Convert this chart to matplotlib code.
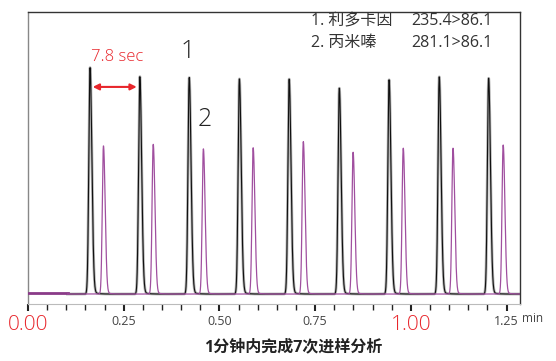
import numpy as np
import matplotlib
matplotlib.use("Agg")
import matplotlib.pyplot as plt

plt.rcParams['font.family'] = ['Open Sans', 'Noto Sans CJK SC', 'DejaVu Sans']

# Retention times (min) and relative heights
lido_rt = [0.162, 0.292, 0.421, 0.552, 0.682, 0.813, 0.943, 1.074, 1.203]
lido_h = [100, 96.0, 95.6, 95.0, 94.9, 90.9, 94.6, 95.9, 95.3]
imip_rt = [0.197, 0.327, 0.458, 0.588, 0.719, 0.849, 0.980, 1.110, 1.241]
imip_h = [65.4, 66.1, 64.1, 64.6, 67.3, 62.6, 64.4, 64.4, 65.8]

tick_vals = [0.00, 0.25, 0.50, 0.75, 1.00, 1.25]
tick_labels = ["0.00", "0.25", "0.50", "0.75", "1.00", "1.25"]
legend_names = ["1. 利多卡因", "2. 丙米嗪"]
legend_mrm = ["235.4>86.1", "281.1>86.1"]

RED = "#e8262c"
PURPLE = "#a04f9f"

t = np.linspace(0, 1.285, 8000)


def trace(rts, hs, sl, sr, tail_amp, tau):
    y = np.zeros_like(t)
    for rt, h in zip(rts, hs):
        d = t - rt
        g = np.where(d < 0, np.exp(-d**2 / (2 * sl**2)), np.exp(-d**2 / (2 * sr**2)))
        tail = np.where(d > 0, tail_amp * np.exp(-d / tau) * (1 - np.exp(-d / 0.003)), 0)
        y += h * (g + tail)
    return y


y_black = trace(lido_rt, lido_h, 0.0032, 0.0048, 0.02, 0.010)
y_purple = trace(imip_rt, imip_h, 0.0030, 0.0045, 0.02, 0.010)

fig = plt.figure(figsize=(5.56, 3.61), dpi=100)
ax = fig.add_axes([28/556, 1 - 304/361, (520-28)/556, (304-12)/361])

mask_b = t >= 0.103
ax.plot(t[mask_b], y_black[mask_b], color="#b5b5b5", lw=2.0, zorder=2)
ax.plot(t[mask_b], y_black[mask_b], color="#111111", lw=0.8, zorder=3)
mask_p0 = t <= 0.105
ax.plot(t[mask_p0], y_purple[mask_p0] + 0.4, color="#8a3a88", lw=2.0, zorder=4)
mask_p = t >= 0.103
ax.plot(t[mask_p], y_purple[mask_p], color=PURPLE, lw=0.9, zorder=4)

ax.set_xlim(0, 1.285)
ax.set_ylim(-4.4, 124.6)
ax.set_yticks([])

ax.set_xticks(tick_vals)
ax.set_xticks(np.arange(0, 1.2851, 0.05), minor=True)
ax.set_xticklabels(tick_labels)
for lab, v in zip(ax.get_xticklabels(), tick_vals):
    if v in (0.0, 1.0):
        lab.set_color(RED)
        lab.set_fontsize(15)
        lab.set_fontweight("light")
    else:
        lab.set_color("#444444")
        lab.set_fontsize(9)
ax.tick_params(axis='x', which='major', length=5, width=1.5, color="#222222", pad=3)
ax.tick_params(axis='x', which='minor', length=4, width=1.0, color="#222222")

for s in ['top', 'right']:
    ax.spines[s].set_color("#333333")
    ax.spines[s].set_linewidth(1.0)
ax.spines['left'].set_color("#888888")
ax.spines['left'].set_linewidth(1.0)
ax.spines['bottom'].set_color("#bbbbbb")
ax.spines['bottom'].set_linewidth(0.8)

def fx(x):
    return x / 556

def fy(y):
    return 1 - y / 361

fig.text(fx(533), fy(319), "min", fontsize=8.5, color="#444444", ha="center", va="center")
fig.text(fx(293), fy(347), "1分钟内完成7次进样分析", fontsize=11.5, fontweight="bold",
         color="#222222", ha="center", va="center")

fig.text(fx(188), fy(52), "1", fontsize=18, color="#222222", ha="center", va="center",
         fontweight="light")
fig.text(fx(205), fy(120), "2", fontsize=18, color="#222222", ha="center", va="center",
         fontweight="light")

fig.text(fx(117), fy(57), "7.8 sec", fontsize=12, color=RED, ha="center", va="center",
         fontweight="light")
ax.annotate("", xy=(lido_rt[0] + 0.007, 91.5), xytext=(lido_rt[1] - 0.008, 91.5),
            arrowprops=dict(arrowstyle="<|-|>", color=RED, lw=1.5,
                            mutation_scale=9, shrinkA=0, shrinkB=0))

for i, (n, m) in enumerate(zip(legend_names, legend_mrm)):
    yy = fy(21 + 22 * i)
    fig.text(fx(311), yy, n, fontsize=11.5, color="#333333", ha="left", va="center")
    fig.text(fx(411), yy, m, fontsize=11.5, color="#333333", ha="left", va="center")

fig.savefig("out.png", dpi=100)
